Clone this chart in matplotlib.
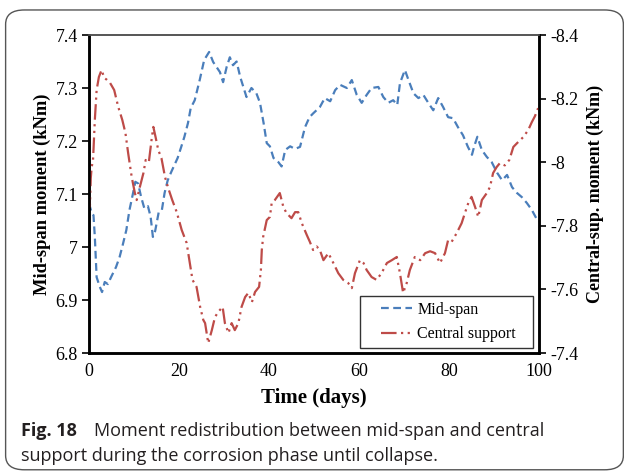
import matplotlib
matplotlib.use('Agg')
import matplotlib.pyplot as plt
from matplotlib.patches import FancyBboxPatch
from matplotlib.ticker import FuncFormatter
from matplotlib.legend_handler import HandlerLine2D

# mid-span moment (left axis, kNm)
mid_days = [0, 0.6, 1.0, 1.3, 1.7, 2.4, 2.9, 3.5, 4.2, 4.9, 6.0, 6.8, 7.5, 8.3, 9.0,
            9.8, 10.3, 10.9, 11.6, 12.3, 13.1, 13.7, 14.2, 14.7, 15.5, 16.2, 16.8,
            17.5, 18.3, 19.0, 19.7, 20.5, 21.2, 22.0, 22.6, 23.5, 24.6, 25.6, 26.7,
            27.6, 29.1, 29.8, 30.6, 31.3, 32.0, 32.8, 33.6, 34.3, 35.0, 36.1, 37.2,
            38.0, 38.8, 39.5, 40.2, 41.0, 42.1, 42.8, 43.6, 44.7, 45.8, 46.9, 48.0,
            49.0, 49.8, 51.3, 52.4, 53.6, 54.7, 55.8, 57.3, 58.4, 59.5, 60.6, 61.7,
            62.8, 64.3, 65.4, 66.5, 67.6, 68.5, 69.1, 70.2, 71.0, 72.1, 73.2, 74.3,
            75.4, 76.5, 77.6, 78.7, 79.8, 80.9, 82.0, 83.1, 84.2, 85.1, 85.6, 86.3,
            87.3, 88.4, 89.5, 90.7, 91.8, 92.9, 94.0, 95.1, 96.2, 97.3, 98.4, 99.6, 100]
mid_vals = [7.083, 7.064, 7.060, 7.019, 6.943, 6.925, 6.915, 6.934, 6.930, 6.943, 6.962,
            6.981, 7.004, 7.032, 7.070, 7.102, 7.123, 7.120, 7.094, 7.073, 7.077, 7.057,
            7.019, 7.030, 7.066, 7.070, 7.102, 7.126, 7.142, 7.155, 7.168, 7.189, 7.208,
            7.234, 7.262, 7.277, 7.315, 7.353, 7.368, 7.349, 7.330, 7.311, 7.340, 7.358,
            7.343, 7.350, 7.321, 7.302, 7.283, 7.300, 7.290, 7.272, 7.234, 7.196, 7.190,
            7.168, 7.160, 7.152, 7.183, 7.190, 7.185, 7.189, 7.226, 7.245, 7.252, 7.264,
            7.281, 7.275, 7.296, 7.306, 7.300, 7.315, 7.287, 7.272, 7.287, 7.300, 7.302,
            7.283, 7.272, 7.277, 7.268, 7.309, 7.334, 7.315, 7.290, 7.281, 7.287, 7.272,
            7.258, 7.281, 7.264, 7.245, 7.243, 7.226, 7.211, 7.189, 7.174, 7.190, 7.208,
            7.183, 7.170, 7.160, 7.140, 7.126, 7.136, 7.113, 7.102, 7.094, 7.083, 7.070,
            7.051, 7.048]

# central support moment (right axis, kNm)
cen_days = [0, 0.2, 0.4, 0.6, 0.9, 1.3, 1.7, 2.2, 2.8, 3.4, 3.9, 4.7, 5.6, 6.5, 7.4, 8.1,
            8.7, 9.5, 10.2, 10.6, 11.3, 12.1, 12.6, 13.3, 13.9, 14.3, 14.8, 15.4, 16.1,
            16.9, 17.6, 18.5, 19.5, 20.6, 21.7, 22.4, 23.0, 23.9, 24.7, 25.4, 25.8, 26.5,
            27.3, 28.0, 28.7, 29.7, 30.2, 31.0, 31.7, 32.4, 33.2, 33.9, 34.7, 35.4, 36.2,
            36.9, 37.8, 38.2, 38.4, 38.7, 39.5, 40.2, 40.6, 41.3, 42.4, 43.2, 43.9, 45.0,
            45.8, 46.5, 47.3, 48.4, 49.1, 49.8, 50.6, 51.3, 52.1, 53.2, 54.3, 55.4, 56.5,
            57.6, 58.4, 59.1, 60.2, 61.0, 61.7, 62.8, 63.9, 65.0, 66.2, 67.3, 68.4, 69.1,
            69.8, 70.6, 71.3, 72.4, 73.6, 74.7, 75.8, 76.9, 78.0, 79.1, 79.8, 80.6, 81.7,
            82.8, 83.6, 84.3, 85.0, 85.8, 86.5, 87.3, 88.4, 89.1, 89.8, 90.6, 91.3, 92.4,
            93.4, 94.3, 95.4, 96.5, 97.6, 98.4, 99.1, 99.8]
cen_vals = [-7.90, -7.86, -7.95, -7.985, -8.007, -8.133, -8.227, -8.268, -8.290, -8.265,
            -8.260, -8.249, -8.227, -8.174, -8.133, -8.092, -8.029, -7.953, -7.903, -7.881,
            -7.922, -7.966, -8.007, -8.000, -8.070, -8.111, -8.079, -8.038, -8.013, -7.953,
            -7.919, -7.881, -7.843, -7.787, -7.746, -7.683, -7.630, -7.608, -7.545, -7.504,
            -7.494, -7.431, -7.472, -7.513, -7.529, -7.545, -7.494, -7.463, -7.494, -7.472,
            -7.494, -7.545, -7.576, -7.589, -7.560, -7.592, -7.608, -7.661, -7.724, -7.765,
            -7.818, -7.828, -7.872, -7.881, -7.903, -7.859, -7.840, -7.824, -7.843, -7.843,
            -7.808, -7.771, -7.749, -7.724, -7.735, -7.724, -7.692, -7.714, -7.683, -7.651,
            -7.630, -7.620, -7.604, -7.651, -7.692, -7.683, -7.661, -7.639, -7.630, -7.651,
            -7.683, -7.692, -7.702, -7.651, -7.589, -7.620, -7.661, -7.702, -7.692, -7.714,
            -7.720, -7.714, -7.683, -7.714, -7.755, -7.750, -7.777, -7.808, -7.843, -7.872,
            -7.891, -7.859, -7.828, -7.881, -7.903, -7.922, -7.966, -7.985, -7.997, -7.990,
            -8.007, -8.048, -8.064, -8.079, -8.101, -8.126, -8.145, -8.170]

x_ticks = [0, 20, 40, 60, 80, 100]
left_ticks = [6.8, 6.9, 7.0, 7.1, 7.2, 7.3, 7.4]
right_ticks = [-7.4, -7.6, -7.8, -8.0, -8.2, -8.4]

plt.rcParams['axes.unicode_minus'] = False
serif = 'Liberation Serif'
blue = '#4A7EBB'
red = '#BE4B48'

fig = plt.figure(figsize=(6.24, 4.75), dpi=100)

# rounded frame around figure + caption
frame = FancyBboxPatch((0.009, 0.011), 0.99, 0.968, boxstyle='round,pad=0,rounding_size=0.03',
                       transform=fig.transFigure, fill=False, edgecolor='#555555', lw=1.0)
fig.patches.append(frame)

ax = fig.add_axes([0.1426, 0.2568, 0.7212, 0.6695])
ax2 = ax.twinx()

l1, = ax.plot(mid_days, mid_vals, color=blue, lw=1.6, dashes=(3.5, 2), label='Mid-span')
l2, = ax2.plot(cen_days, cen_vals, color=red, lw=1.6, dashes=(7, 2, 1, 2, 1, 2),
               label='Central support')

ax.set_xlim(0, 100)
ax.set_ylim(6.8, 7.4)
ax2.set_ylim(-7.4, -8.4)
ax.set_xticks(x_ticks)
ax.set_yticks(left_ticks)
ax2.set_yticks(right_ticks)
fmt = FuncFormatter(lambda v, p: '%g' % round(v, 2))
ax.yaxis.set_major_formatter(fmt)
ax2.yaxis.set_major_formatter(fmt)
ax.xaxis.set_major_formatter(fmt)

for a in (ax, ax2):
    for s in ('left', 'bottom', 'right'):
        a.spines[s].set_linewidth(1.8)
        a.spines[s].set_color('black')
    a.spines['top'].set_linewidth(1.2)
    a.spines['top'].set_color('#555555')
    a.tick_params(labelsize=13, width=1.2, length=5)
    for lab in a.get_xticklabels() + a.get_yticklabels():
        lab.set_family(serif)
ax.tick_params(axis='x', length=0, pad=7)
ax.tick_params(axis='y', pad=3)
ax2.tick_params(axis='y', pad=3)

ax.set_xlabel('Time (days)', family=serif, fontsize=15, fontweight='bold', labelpad=6)
ax.set_ylabel('Mid-span moment (kNm)', family=serif, fontsize=13.3, fontweight='bold', labelpad=3)
ax2.set_ylabel('Central-sup. moment (kNm)', family=serif, fontsize=13, fontweight='bold', labelpad=6)

hmap = {l1: HandlerLine2D(xpad=1.0), l2: HandlerLine2D(xpad=1.0)}
leg = ax2.legend([l1, l2], ['Mid-span', 'Central support'], loc='lower left',
                 bbox_to_anchor=(0.602, 0.016, 0.384, 0.15), mode='expand',
                 prop={'family': serif, 'size': 11.5}, handler_map=hmap,
                 frameon=True, fancybox=False, edgecolor='black', handlelength=2.9,
                 borderpad=0.35, labelspacing=0.55, handletextpad=0.35, borderaxespad=0)
leg.get_frame().set_linewidth(1.0)

cap = '#231F20'
fig.text(0.034, 1 - 436 / 475, 'Fig. 18', fontsize=13, fontweight='bold',
         family='Open Sans', color=cap, va='baseline')
fig.text(0.150, 1 - 436 / 475, 'Moment redistribution between mid-span and central',
         fontsize=13, family='Open Sans', color=cap, va='baseline')
fig.text(0.034, 1 - 461 / 475, 'support during the corrosion phase until collapse.',
         fontsize=13, family='Open Sans', color=cap, va='baseline')

fig.savefig('out.png', dpi=100)
